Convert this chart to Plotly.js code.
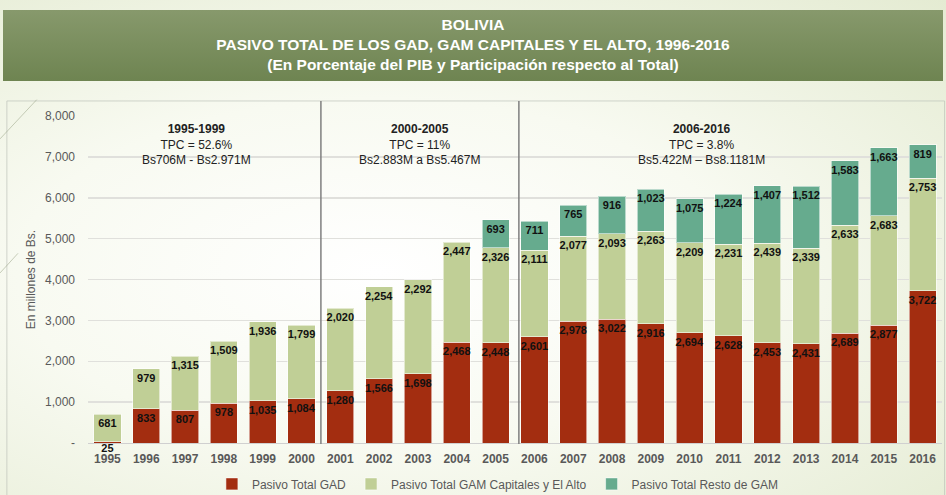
<!DOCTYPE html>
<html>
<head>
<meta charset="utf-8">
<script src="https://cdn.plot.ly/plotly-3.0.1.min.js"></script>
<style>
html,body{margin:0;padding:0;width:946px;height:495px;overflow:hidden;}
body{background:radial-gradient(ellipse at 40% 55%, #ffffff 0%, #f8faf1 45%, #e4ebd2 100%);position:relative;}
#band{position:absolute;left:3px;top:10px;width:940px;height:71px;background:linear-gradient(to bottom,#87996c 0%,#6e8451 100%);}
#chart{position:absolute;left:0;top:0;width:946px;height:495px;}
</style>
</head>
<body>
<div id="band"></div>
<div id="chart"></div>
<script>
const years = ['1995','1996','1997','1998','1999','2000','2001','2002','2003','2004','2005','2006','2007','2008','2009','2010','2011','2012','2013','2014','2015','2016'];
const gad = [25,833,807,978,1035,1084,1280,1566,1698,2468,2448,2601,2978,3022,2916,2694,2628,2453,2431,2689,2877,3722];
const gamCap = [681,979,1315,1509,1936,1799,2020,2254,2292,2447,2326,2111,2077,2093,2263,2209,2231,2439,2339,2633,2683,2753];
const restoGam = [null,null,null,null,null,null,null,null,null,null,693,711,765,916,1023,1075,1224,1407,1512,1583,1663,819];
const seriesNames = ['Pasivo Total GAD','Pasivo Total GAM Capitales y El Alto','Pasivo Total Resto de GAM'];
const yTicks = [0,1000,2000,3000,4000,5000,6000,7000,8000];
const yTickText = ['-','1,000','2,000','3,000','4,000','5,000','6,000','7,000','8,000'];
const periods = [
  {x: 2.3, text: '<b>1995-1999</b><br>TPC = 52.6%<br>Bs706M - Bs2.971M'},
  {x: 8.05, text: '<b>2000-2005</b><br>TPC = 11%<br>Bs2.883M a Bs5.467M'},
  {x: 15.3, text: '<b>2006-2016</b><br>TPC = 3.8%<br>Bs5.422M – Bs8.1181M'}
];
const dividers = [5.5, 10.6];

const colors = ['#a32d10','#c0cf96','#66ab8e'];
const lblFont = {family:'Liberation Sans, Arial, sans-serif', size:11, color:'#111', weight:'bold'};
function fmt(v){return v==null?'':v.toLocaleString('en-US');}
const vals = [gad, gamCap, restoGam];
const traces = vals.map((arr,i)=>({
  type:'bar', x:years, y:arr, name:seriesNames[i],
  marker:{color:colors[i], line:{color:'rgba(255,255,255,0.55)', width:1}},
  text: arr.map(fmt), textposition:'inside', insidetextanchor:'end',
  textangle:0, constraintext:'none', textfont:lblFont, insidetextfont:lblFont,
  hoverinfo:'skip', cliponaxis:false
}));

const shapes = [
  {type:'rect', xref:'paper', yref:'paper', x0:-0.095, x1:1.003, y0:-0.2, y1:1.046, line:{color:'rgba(190,195,185,0.7)', width:1}, fillcolor:'rgba(0,0,0,0)', layer:'below'},
  {type:'line', xref:'paper', yref:'paper', x0:-0.103, y0:0.93, x1:-0.06, y1:1.05, line:{color:'rgba(150,160,130,0.5)', width:1}},
  {type:'line', xref:'paper', yref:'paper', x0:-0.103, y0:0.52, x1:-0.082, y1:0.58, line:{color:'rgba(150,160,130,0.5)', width:1}}
];
dividers.forEach(d=>shapes.push({type:'line', xref:'x', yref:'paper', x0:d, x1:d, y0:-0.003, y1:1.046, line:{color:'#7f7f7f', width:1.5}}));

const annotations = periods.map(p=>({
  x:p.x, xref:'x', y:7900, yref:'y', yanchor:'top', xanchor:'center', showarrow:false,
  text:p.text, align:'center',
  font:{family:'Liberation Sans, Arial, sans-serif', size:12, color:'#222'}
}));

const layout = {
  width:946, height:495,
  margin:{l:88, r:4, t:116, b:52, autoexpand:false},
  paper_bgcolor:'rgba(0,0,0,0)', plot_bgcolor:'rgba(0,0,0,0)',
  barmode:'stack', bargap:0.3,
  title:{text:'BOLIVIA<br>PASIVO TOTAL DE LOS GAD, GAM CAPITALES Y EL ALTO, 1996-2016<br>(En Porcentaje del PIB y Participación respecto al Total)',
    x:0.5, xanchor:'center', y:0.94, yanchor:'top',
    font:{family:'Liberation Sans, Arial, sans-serif', size:15.5, color:'#ffffff', weight:'bold'}},
  xaxis:{type:'category', automargin:false, tickfont:{family:'Liberation Sans, Arial, sans-serif', size:12, color:'#595959', weight:'bold'},
    showgrid:false, showline:true, linecolor:'#d0d0d0', ticks:'', ticklabelstandoff:5, fixedrange:true},
  yaxis:{range:[0,8000], automargin:false, tickvals:yTicks, ticktext:yTickText, showgrid:true, gridcolor:'#e0e0dc', gridwidth:1.5,
    zeroline:false, tickfont:{family:'Liberation Sans, Arial, sans-serif', size:12, color:'#595959'},
    ticklabelstandoff:12,
    title:{text:'En millones de Bs.', font:{family:'Liberation Sans, Arial, sans-serif', size:12, color:'#595959'}, standoff:6}, fixedrange:true},
  legend:{orientation:'h', x:0.48, xanchor:'center', y:-0.125, yanchor:'middle',
    font:{family:'Liberation Sans, Arial, sans-serif', size:12, color:'#595959'}, traceorder:'normal', itemwidth:30},
  shapes:shapes, annotations:annotations, showlegend:true
};
Plotly.newPlot('chart', traces, layout, {displayModeBar:false, staticPlot:true});
</script>
</body>
</html>
